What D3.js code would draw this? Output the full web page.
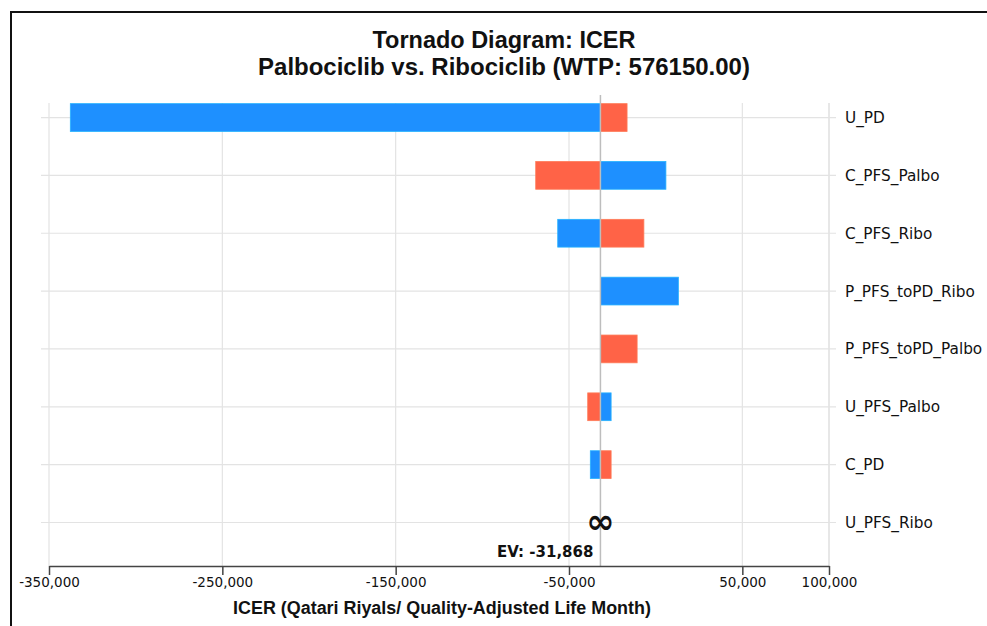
<!DOCTYPE html>
<html>
<head>
<meta charset="utf-8">
<script src="https://cdn.jsdelivr.net/npm/d3@7"></script>
<style>
  html, body { margin: 0; padding: 0; background: #fff; }
  svg { display: block; }
</style>
</head>
<body>
<svg id="chart" width="987" height="626"></svg>
<script>
// Tornado diagram: ICER sensitivity, Palbociclib vs. Ribociclib
const parameters = ["U_PD", "C_PFS_Palbo", "C_PFS_Ribo", "P_PFS_toPD_Ribo",
                    "P_PFS_toPD_Palbo", "U_PFS_Palbo", "C_PD", "U_PFS_Ribo"];
// ICER at the low end of each parameter's range (blue bars)
const lowValues  = [-337700, 5900, -56500, 13100, null, -25700, -37700, null];
// ICER at the high end of each parameter's range (red bars)
const highValues = [-16500, -69200, -6800, null, -10700, -39200, -25700, null];
// Parameters whose ICER becomes unbounded
const unbounded  = [false, false, false, false, false, false, false, true];
const expectedValue = -31868;
const tickValues = [-350000, -250000, -150000, -50000, 50000, 100000];
const xDomain = [-350000, 100000];

const titleLines = ["Tornado Diagram: ICER", "Palbociclib vs. Ribociclib (WTP: 576150.00)"];
const xAxisTitle = "ICER (Qatari Riyals/ Quality-Adjusted Life Month)";

const lowColor = "#1E90FF", highColor = "#FF6347";
const svg = d3.select("#chart");
const narrow = "'Liberation Sans', Arial, sans-serif";
const wide = "'DejaVu Sans', Verdana, sans-serif";

const left = 49, right = 829, axisY = 566;
const x = d3.scaleLinear().domain(xDomain).range([left, right]);
const y = d3.scaleBand().domain(parameters).range([88.6, 551.4])
  .paddingInner(0.52).paddingOuter(0.26);

// shrink or grow a text's font so that it spans the given width
function fitWidth(sel, width) {
  sel.each(function () {
    const size = parseFloat(this.style.fontSize);
    const w = this.getComputedTextLength();
    if (w > 0) this.style.fontSize = (size * width / w).toFixed(2) + "px";
  });
}

// outer frame
svg.append("path")
  .attr("d", "M11,626 V12 H987")
  .attr("fill", "none").attr("stroke", "#111").attr("stroke-width", 2);

// titles
const titleWidths = [263, 492];
svg.selectAll("text.title").data(titleLines).join("text")
  .attr("class", "title")
  .attr("x", 504).attr("y", (d, i) => 48 + i * 27)
  .attr("text-anchor", "middle")
  .style("font-family", narrow).style("font-weight", "bold").style("font-size", "23px")
  .attr("fill", "#111")
  .text(d => d)
  .each(function (d, i) { fitWidth(d3.select(this), titleWidths[i]); });

// vertical grid lines
svg.append("g").selectAll("line").data(tickValues).join("line")
  .attr("x1", d => x(d)).attr("x2", d => x(d))
  .attr("y1", 103).attr("y2", axisY)
  .attr("stroke", "#e3e3e3").attr("stroke-width", 1.2);

// horizontal grid lines through each row, with short ticks past both edges
svg.append("g").selectAll("line").data(parameters).join("line")
  .attr("x1", left - 8).attr("x2", right + 7)
  .attr("y1", d => y(d) + y.bandwidth() / 2).attr("y2", d => y(d) + y.bandwidth() / 2)
  .attr("stroke", "#e3e3e3").attr("stroke-width", 1.2);

// right-hand boundary line
svg.append("line")
  .attr("x1", right).attr("x2", right).attr("y1", 103).attr("y2", axisY)
  .attr("stroke", "#e3e3e3").attr("stroke-width", 1.2);

// bars run from the expected value out to each end of the range
const bars = [];
parameters.forEach((p, i) => {
  if (lowValues[i] !== null) bars.push({ p, v: lowValues[i], c: lowColor });
  if (highValues[i] !== null) bars.push({ p, v: highValues[i], c: highColor });
});
svg.append("g").selectAll("rect").data(bars).join("rect")
  .attr("x", d => Math.min(x(d.v), x(expectedValue)))
  .attr("width", d => Math.abs(x(d.v) - x(expectedValue)))
  .attr("y", d => y(d.p))
  .attr("height", y.bandwidth())
  .attr("fill", d => d.c)
  .attr("stroke", d => d3.color(d.c).brighter(0.6))
  .attr("stroke-width", 0.8);

// expected value line
svg.append("line")
  .attr("x1", x(expectedValue)).attr("x2", x(expectedValue))
  .attr("y1", 95).attr("y2", axisY)
  .attr("stroke", "#bdbdbd").attr("stroke-width", 1.5);

// unbounded marker
svg.append("g").selectAll("text").data(parameters.filter((p, i) => unbounded[i])).join("text")
  .attr("x", x(expectedValue)).attr("y", d => y(d) + y.bandwidth() / 2 + 11)
  .attr("text-anchor", "middle")
  .style("font-family", wide).style("font-weight", "bold").style("font-size", "34px")
  .attr("fill", "#111")
  .text("\u221E");

// expected value label
svg.append("text")
  .attr("x", x(expectedValue) - 7).attr("y", 557)
  .attr("text-anchor", "end")
  .style("font-family", wide).style("font-weight", "bold").style("font-size", "15px")
  .attr("fill", "#111")
  .text("EV: " + d3.format(",")(expectedValue).replace("\u2212", "-"));

// category labels on the right
svg.append("g").selectAll("text").data(parameters).join("text")
  .attr("x", 845).attr("y", d => y(d) + y.bandwidth() / 2 + 5.5)
  .style("font-family", wide).style("font-size", "15.3px")
  .attr("fill", "#111")
  .text(d => d);

// x axis
const xAxis = d3.axisBottom(x).tickValues(tickValues).tickSize(9).tickSizeOuter(0)
  .tickFormat(d => d3.format(",")(d).replace("\u2212", "-"));
const gx = svg.append("g").attr("transform", `translate(0,${axisY})`).call(xAxis);
gx.select(".domain").attr("stroke", "#444").attr("stroke-width", 1.5);
gx.selectAll(".tick line").attr("stroke", "#444").attr("stroke-width", 1.5);
gx.selectAll(".tick text")
  .attr("y", 11).attr("dy", "0.71em")
  .style("font-family", wide).style("font-size", "13.5px").attr("fill", "#111");

// x axis title
svg.append("text")
  .attr("x", 442).attr("y", 614)
  .attr("text-anchor", "middle")
  .style("font-family", narrow).style("font-weight", "bold").style("font-size", "17px")
  .attr("fill", "#111")
  .text(xAxisTitle)
  .call(fitWidth, 418);
</script>
</body>
</html>
